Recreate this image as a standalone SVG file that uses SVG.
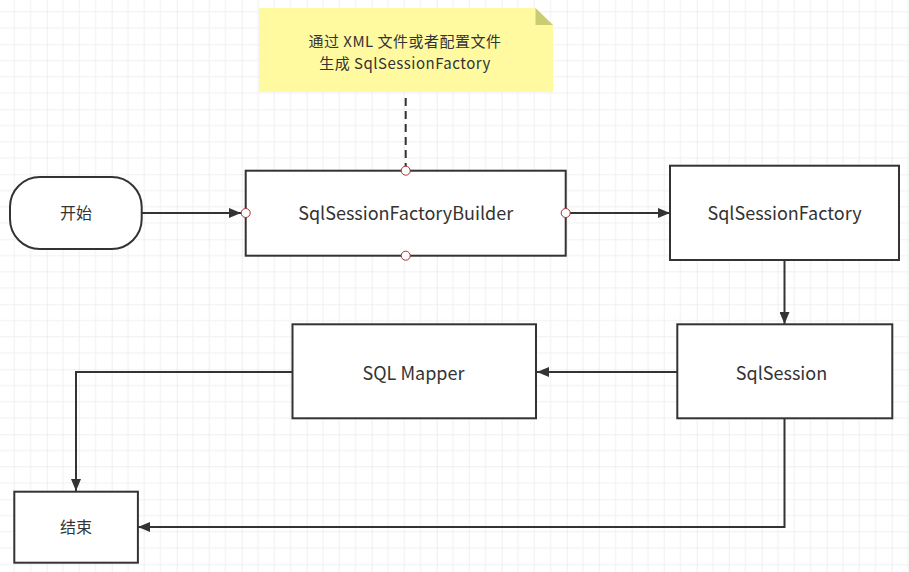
<svg xmlns="http://www.w3.org/2000/svg" width="909" height="572" viewBox="0 0 909 572">
<style>
.box{fill:#fff;stroke:#333;stroke-width:2}
.lbl{font-family:"Noto Sans CJK SC","Noto Sans",sans-serif;font-size:18px;fill:#333;text-anchor:middle;dominant-baseline:central}
.cjk{font-size:16px}
.note{font-family:"Noto Sans CJK SC","Noto Sans",sans-serif;font-size:15px;letter-spacing:0.5px;fill:#333;text-anchor:middle;dominant-baseline:central}
.edge{fill:none;stroke:#333;stroke-width:2}
.pt{fill:#fff;stroke:#a83232;stroke-width:1}
</style>
<defs>
<pattern id="grid" patternUnits="userSpaceOnUse" x="46.7" y="44.3" width="65" height="65">
<path d="M16.25 0V65M32.5 0V65M48.75 0V65M0 16.25H65M0 32.5H65M0 48.75H65" stroke="#f0f0f0" stroke-width="1" fill="none"/>
<path d="M0 0V65M0 0H65" stroke="#e4e4e4" stroke-width="1.2" fill="none"/>
</pattern>
<marker id="arr" viewBox="0 0 12 10" refX="12" refY="5" markerWidth="12" markerHeight="10" markerUnits="userSpaceOnUse" orient="auto">
<path d="M0 0L12 5L0 10Z" fill="#333"/>
</marker>
</defs>
<rect width="909" height="572" fill="#fff"/>
<rect width="909" height="572" fill="url(#grid)"/>

<g id="connectors">
<path class="edge" d="M405.7 98V168" stroke-dasharray="8 5"/>
<path class="edge" d="M141.7 213H241" marker-end="url(#arr)"/>
<path class="edge" d="M570 213H670" marker-end="url(#arr)"/>
<path class="edge" d="M784.5 260V324" marker-end="url(#arr)"/>
<path class="edge" d="M677 372H537" marker-end="url(#arr)"/>
<path class="edge" d="M292 372H76V491" marker-end="url(#arr)"/>
<path class="edge" d="M784.5 418V527H138" marker-end="url(#arr)"/>
</g>

<g id="note">
<path d="M259 8H535.5L553 25V92H259Z" fill="#fffaa0"/>
<path d="M535.5 8L553 25H535.5Z" fill="#cbcb72"/>
<text class="note" x="405" y="40">通过 XML 文件或者配置文件</text>
<text class="note" x="405" y="62">生成 SqlSessionFactory</text>
</g>

<g id="start">
<rect class="box" x="10" y="177" width="131.7" height="72" rx="30" ry="30"/>
<text class="lbl cjk" x="76" y="212">开始</text>
</g>

<g id="builder">
<rect class="box" x="245.7" y="170.7" width="320" height="85"/>
<text class="lbl" x="405.7" y="212">SqlSessionFactoryBuilder</text>
<circle class="pt" cx="405.7" cy="170.7" r="4.5"/>
<circle class="pt" cx="405.7" cy="255.7" r="4.5"/>
<circle class="pt" cx="245.7" cy="213" r="4.5"/>
<circle class="pt" cx="565.7" cy="213" r="4.5"/>
</g>

<g id="factory">
<rect class="box" x="670" y="165.7" width="229" height="94.3"/>
<text class="lbl" x="784.5" y="212">SqlSessionFactory</text>
</g>

<g id="session">
<rect class="box" x="677.3" y="324.3" width="215" height="94"/>
<text class="lbl" x="781.5" y="372">SqlSession</text>
</g>

<g id="mapper">
<rect class="box" x="292.5" y="324.3" width="243.5" height="94"/>
<text class="lbl" x="413.5" y="372">SQL Mapper</text>
</g>

<g id="end">
<rect class="box" x="14.3" y="491.7" width="123.6" height="71"/>
<text class="lbl cjk" x="76" y="526">结束</text>
</g>
</svg>
